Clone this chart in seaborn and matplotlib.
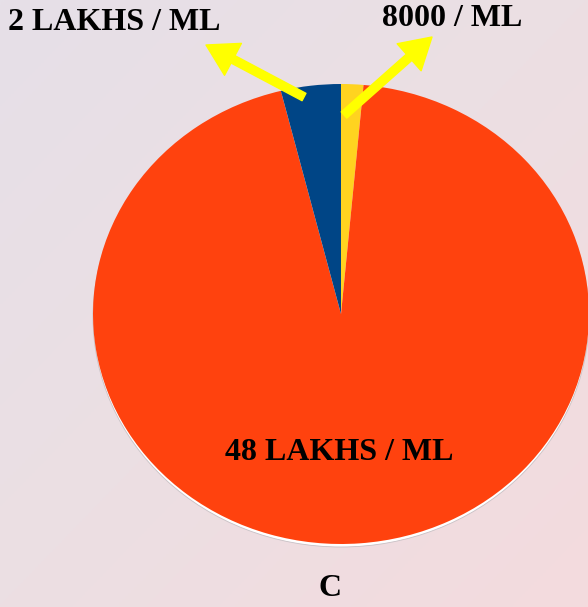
import numpy as np
import seaborn as sns
import matplotlib.pyplot as plt
from matplotlib.patches import Ellipse
from matplotlib.colors import LinearSegmentedColormap

# -------------------------------------------------------------------
# Data (shares, in %)
# -------------------------------------------------------------------
slice_names = ["8000 / ML", "48 LAKHS / ML", "2 LAKHS / ML"]
slice_shares = [1.45, 94.65, 3.9]
slice_colors = ["#FFD320", "#FF420E", "#004586"]
title_text = "C"

sns.set_theme(style="white")
plt.rcParams["font.family"] = ["Liberation Serif", "DejaVu Serif"]

W, H, DPI = 588, 607, 100
fig = plt.figure(figsize=(W / DPI, H / DPI), dpi=DPI)

# background gradient
bg = fig.add_axes([0, 0, 1, 1], zorder=0)
yy, xx = np.mgrid[0:1:200j, 0:1:200j]
grad = (xx + yy) / 2
cmap = LinearSegmentedColormap.from_list("bg", ["#E6E0E8", "#ECDFE3", "#F4DBDE"])
bg.imshow(grad, cmap=cmap, aspect="auto", extent=(0, 1, 0, 1), origin="upper")
bg.set_axis_off()

# pie axes: pixel-based limits so the pie becomes a slightly wide ellipse
cx, cy = 341, 314
rx, ry = 248, 230
ax = fig.add_axes([0, 0, 1, 1], zorder=1)
ax.patch.set_alpha(0)
ax.add_patch(Ellipse((0, -3 / ry), 2.0, 2.0, facecolor="white",
                     edgecolor="#C8C0C4", linewidth=0.6, zorder=0))
ax.pie(slice_shares, colors=slice_colors, startangle=90, counterclock=False,
       radius=1.0, center=(0, 0), wedgeprops=dict(linewidth=0))
ax.set_aspect("auto")
ax.set_xlim(-cx / rx, (W - cx) / rx)
ax.set_ylim(-(H - cy) / ry, cy / ry)
ax.set_axis_off()

# labels
txt = dict(fontsize=23, fontweight="bold", color="black")
fig.text(8 / W, 1 - 22 / H, slice_names[2], ha="left", va="center", **txt)
fig.text(452 / W, 1 - 19 / H, slice_names[0], ha="center", va="center", **txt)
fig.text(339 / W, 1 - 453 / H, slice_names[1], ha="center", va="center", **txt)
fig.text(330 / W, 1 - 588 / H, title_text, ha="center", va="center", **txt)

# yellow arrows
arrow = dict(arrowstyle="simple,head_width=1.3,head_length=1.1,tail_width=0.3",
             mutation_scale=20, color="#FFFF00", shrinkA=0, shrinkB=0)
for tail, tip in [((304, 97), (206, 45)), ((344, 115), (432, 37))]:
    fig.add_artist(plt.Annotation("", xy=(tip[0], H - tip[1]),
                                  xytext=(tail[0], H - tail[1]),
                                  xycoords="figure pixels",
                                  textcoords="figure pixels",
                                  arrowprops=arrow))

fig.savefig("out.png", dpi=DPI)
